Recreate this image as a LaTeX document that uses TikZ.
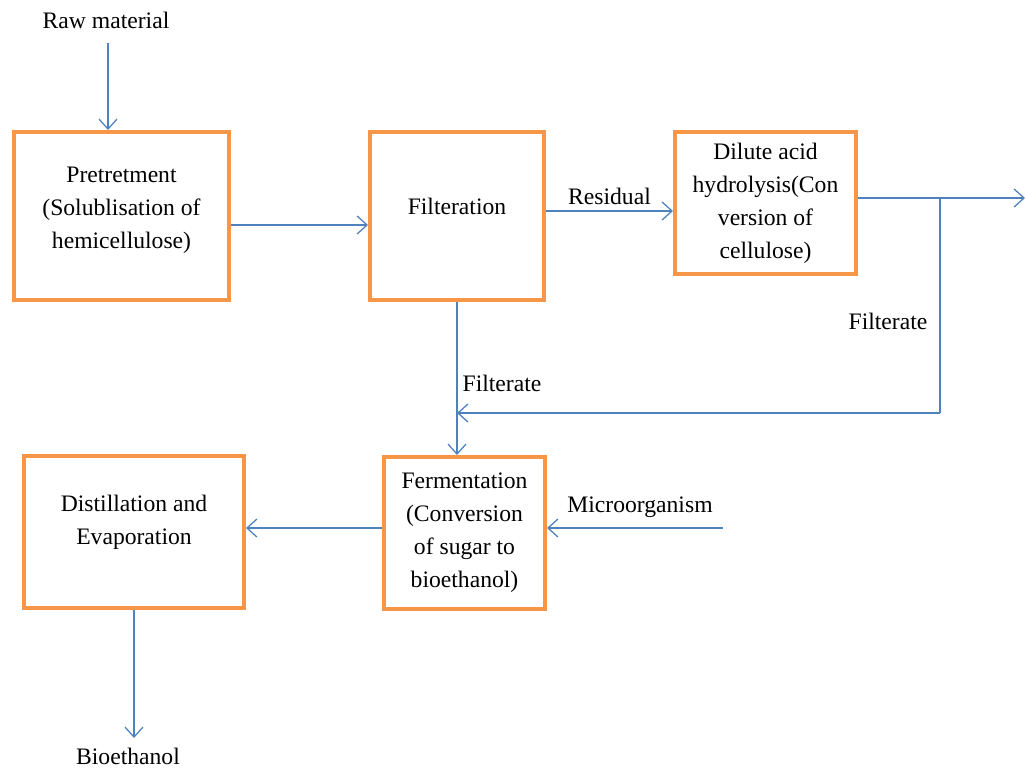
\documentclass[tikz,border=0pt]{standalone}
\usepackage{fontspec}
\setmainfont{Liberation Serif}
\usetikzlibrary{arrows.meta,positioning}
\definecolor{boxorange}{HTML}{F79646}
\definecolor{flowblue}{HTML}{4F81BD}
\tikzset{
  procbox/.style={draw=boxorange, line width=2.8pt, align=center, inner sep=2pt, font=\fontsize{16.8}{23.4}\selectfont},
  lbl/.style={font=\fontsize{16.8}{23.4}\selectfont, inner sep=1pt},
  flow/.style={draw=flowblue, line width=0.9pt, -{Straight Barb[length=2.5mm,width=4.5mm]}},
  plainline/.style={draw=flowblue, line width=0.9pt}
}
\begin{document}
\begin{tikzpicture}[x=0.025cm, y=-0.025cm]
\useasboundingbox (0,0) rectangle (1026,770);
% process boxes
\node[procbox, minimum width=5.375cm, minimum height=4.2cm] (pre) at (121.5,216) {Pretretment\\(Solublisation of\\hemicellulose)\\[-12pt]};
\node[procbox, minimum width=4.35cm, minimum height=4.2cm] (fil) at (457,216) {Filteration\\[-9.4pt]};
\node[procbox, minimum width=4.525cm, minimum height=3.55cm] (dil) at (765.5,203) {Dilute acid\\hydrolysis(Con\\version of\\cellulose)};
\node[procbox, minimum width=4.025cm, minimum height=3.8cm] (ferm) at (464.5,533) {Fermentation\\(Conversion\\of sugar to\\bioethanol)};
\node[procbox, minimum width=5.5cm, minimum height=3.8cm] (dist) at (134,532) {Distillation and\\Evaporation\\[-6pt]};
% inputs and outputs
\node[lbl] (raw) at (106,20) {Raw material};
\node[lbl] (bio) at (128,756) {Bioethanol};
\node[lbl] (microtxt) at (640,507) {Microorganism};
\node[lbl] (filta) at (502,383) {Filterate};
\node[lbl] (filtb) at (888,321) {Filterate};
\coordinate (micro) at (723,528);
\coordinate (out) at (1025,198);
\coordinate (br) at (940,198);
\coordinate (back) at (940,413);
% connectors
\draw[flow, shorten <=3.3mm] (108,0 |- raw.south) -- (108,0 |- pre.north);
\draw[flow] ([yshift=-2.25mm]pre.east) -- ([yshift=-2.25mm]fil.west);
\draw[flow] (fil.east |- 0,211) -- node[lbl, above=3pt] (resid) {Residual} (dil.west |- 0,211);
\draw[flow] (dil.east |- br) -- (out);
\draw[plainline] (br) -- (back);
\draw[flow] (back) -- (fil.south |- back);
\draw[flow] (fil.south) -- (fil.south |- ferm.north);
\draw[flow] (micro) -- (ferm.east |- micro);
\draw[flow] (ferm.west |- micro) -- (dist.east |- micro);
\draw[flow, shorten >=2mm] (dist.south) -- (dist.south |- bio.north);
\end{tikzpicture}
\end{document}
